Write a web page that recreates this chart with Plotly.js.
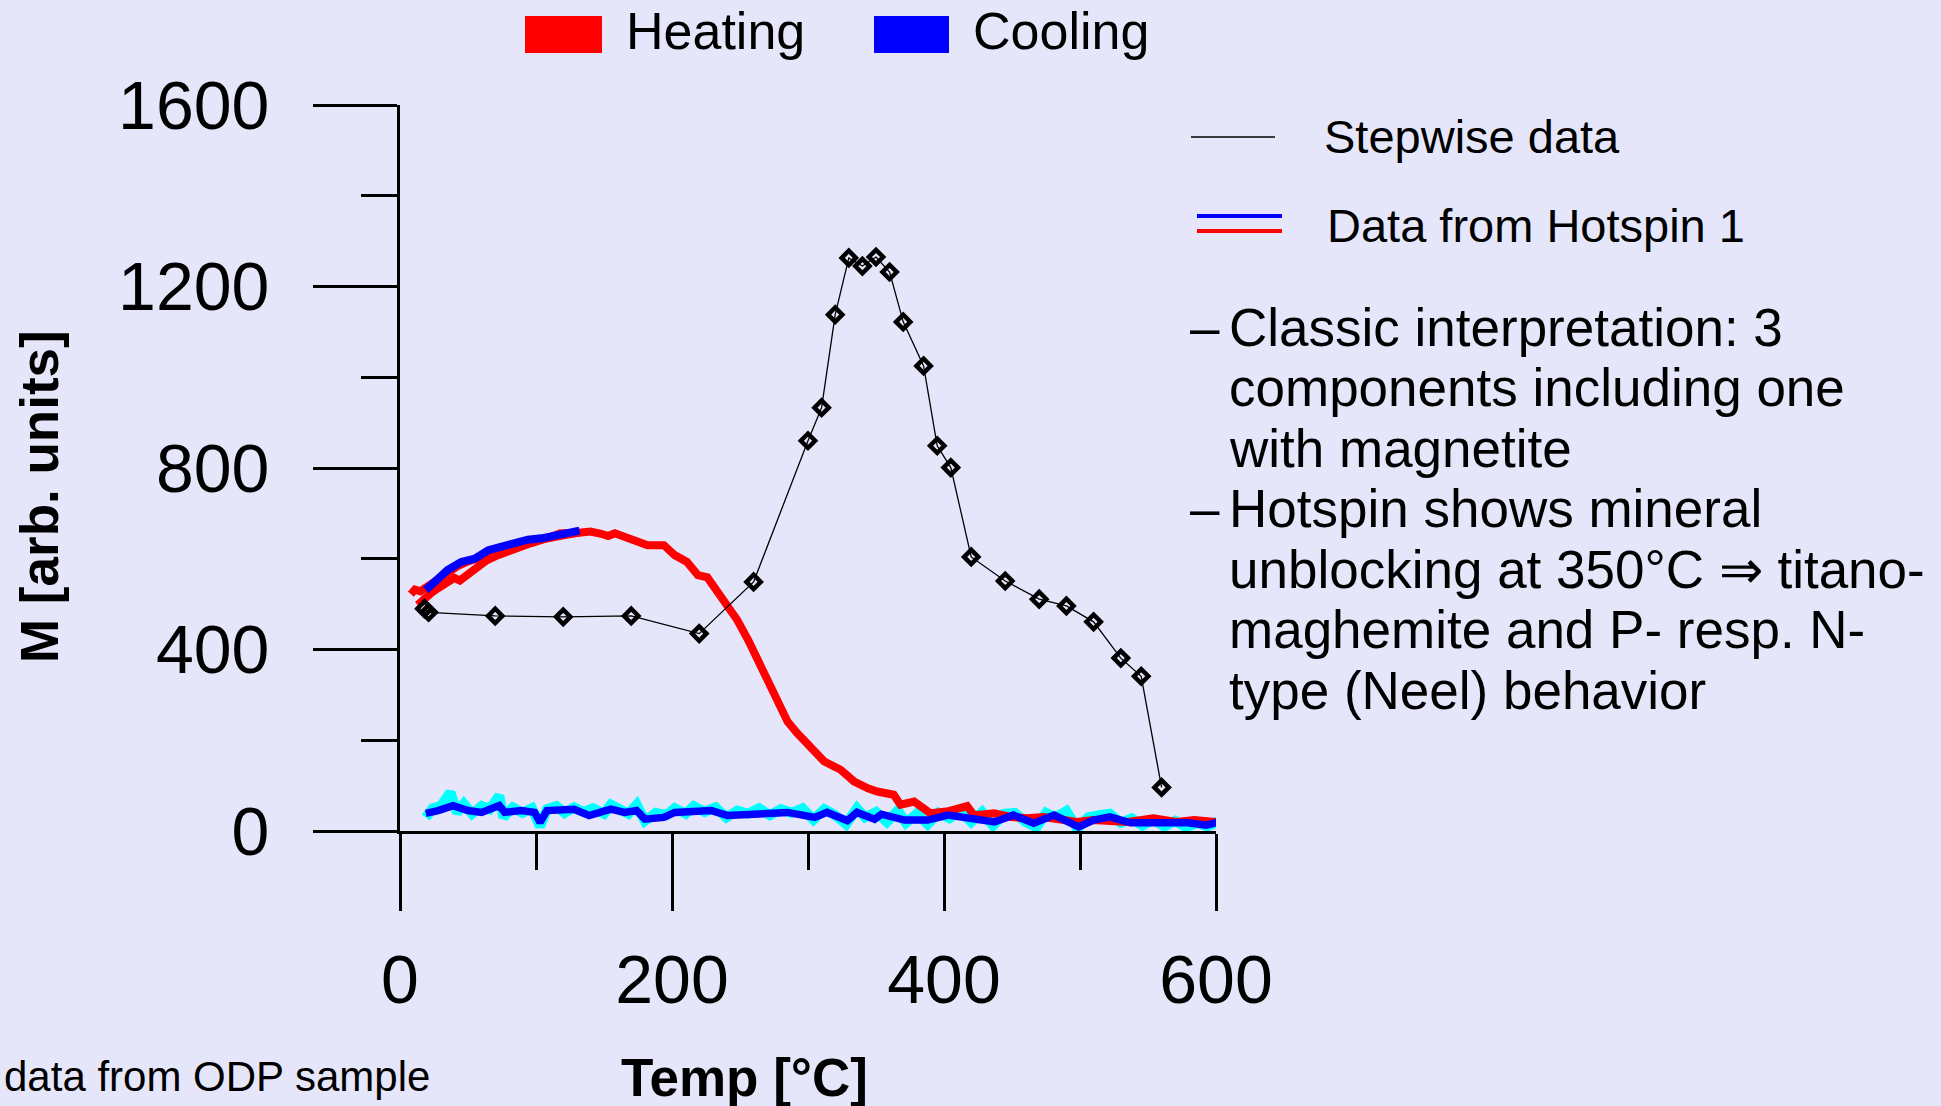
<!DOCTYPE html>
<html>
<head>
<meta charset="utf-8">
<script src="https://cdn.plot.ly/plotly-3.0.1.min.js"></script>
<style>
  html, body { margin: 0; padding: 0; background: #E6E6FA; }
  #chart { width: 1941px; height: 1106px; }
</style>
</head>
<body>
<div id="chart"></div>
<script>
// ---------------- DATA ----------------
// Stepwise thermal demagnetisation data (black diamonds)
const stepTemp = [18, 21, 70, 120, 170, 220, 260, 300, 310, 320, 330, 340, 350, 360, 370, 385, 395, 405, 420, 445, 470, 490, 510, 530, 545, 560];
const stepM    = [490, 482, 474, 472, 474, 435, 549, 860, 933, 1138, 1263, 1245, 1265, 1232, 1122, 1025, 849, 801, 604, 551, 511, 496, 461, 381, 341, 96];

// Hotspin heating run 1 (to ~130 °C)
const heat1Temp = [8, 11, 15, 19, 24, 30, 36, 42, 50, 58, 66, 76, 86, 96, 106, 116, 126, 132];
const heat1M    = [522, 532, 528, 536, 548, 560, 572, 583, 594, 603, 612, 620, 630, 638, 644, 650, 655, 658];

// Hotspin heating run 2 (to ~600 °C)
const heat2Temp = [13, 17, 22, 27, 31, 36, 40, 44, 48, 53, 58, 63, 72, 84, 96, 108, 118, 128, 140, 148, 153, 158, 170, 182, 194, 202, 211, 219, 226, 233, 241, 248, 256, 263, 270, 278, 285, 292, 302, 312, 324, 334, 344, 351, 363, 368, 378, 390, 402, 417, 422, 437, 449, 461, 473, 486, 498, 510, 535, 554, 571, 584, 596, 607];
const heat2M    = [498, 510, 522, 533, 540, 546, 558, 552, 562, 573, 583, 595, 608, 623, 634, 645, 656, 656, 660, 655, 650, 656, 641, 630, 630, 608, 593, 564, 559, 531, 498, 465, 421, 377, 333, 289, 241, 216, 186, 153, 135, 109, 94, 87, 80, 58, 65, 39, 43, 55, 35, 39, 31, 28, 31, 24, 20, 24, 20, 28, 20, 24, 22, 18];

// Hotspin cooling run 1 (from ~130 °C)
const cool1Temp = [132, 123, 114, 104, 94, 84, 74, 65, 55, 45, 35, 26, 19];
const cool1M    = [662, 656, 652, 645, 642, 634, 623, 619, 600, 593, 575, 553, 531];

// Hotspin cooling run 2 (from ~600 °C)
const cool2Temp = [602, 593, 579, 559, 537, 522, 510, 499, 481, 466, 451, 437, 420, 403, 388, 371, 354, 349, 336, 329, 314, 305, 285, 268, 256, 241, 229, 214, 202, 194, 180, 174, 165, 155, 139, 128, 119, 108, 103, 99, 89, 77, 73, 60, 50, 39, 28, 19];
const cool2M    = [20, 13, 18, 17, 18, 31, 24, 9, 35, 17, 35, 20, 28, 35, 24, 24, 37, 26, 41, 23, 41, 30, 41, 37, 34, 34, 45, 45, 41, 30, 26, 45, 41, 48, 34, 48, 48, 45, 19, 41, 45, 41, 56, 41, 45, 56, 45, 39];

// Raw (unsmoothed) cooling signal drawn underneath in cyan
const rawTemp = [19, 24, 30, 37, 42, 47, 53, 60, 66, 73, 76, 83, 90, 97, 103, 108, 115, 121, 128, 135, 142, 150, 155, 162, 168, 174, 180, 188, 196, 202, 210, 216, 224, 232, 240, 248, 256, 264, 272, 280, 288, 296, 304, 312, 320, 328, 336, 342, 350, 358, 366, 372, 380, 388, 396, 404, 412, 420, 428, 436, 444, 452, 460, 468, 475, 482, 490, 498, 506, 514, 522, 530, 538, 546, 554, 562, 570, 578, 586, 594, 602];
const rawM    = [30, 50, 55, 85, 40, 60, 38, 55, 48, 78, 30, 52, 40, 50, 10, 48, 55, 40, 52, 42, 50, 38, 58, 45, 38, 58, 22, 40, 35, 50, 38, 55, 42, 52, 30, 45, 38, 50, 35, 48, 40, 50, 25, 48, 35, 15, 50, 30, 42, 20, 45, 18, 38, 15, 40, 28, 45, 20, 42, 12, 38, 40, 20, 8, 40, 30, 44, 5, 30, 35, 38, 18, 28, 12, 25, 10, 22, 8, 18, 10, 22];

// Axis ticks
const xTicks = [0, 200, 400, 600];
const xMinorTicks = [100, 300, 500];
const yTicks = [0, 400, 800, 1200, 1600];
const yMinorTicks = [200, 600, 1000, 1400];

// Text
const xTitle = 'Temp [°C]';
const yTitle = 'M [arb. units]';
const legendTop = ['Heating', 'Cooling'];
const legendRight = ['Stepwise data', 'Data from Hotspin 1'];
const bulletLines = [
  ['–', 'Classic interpretation: 3'],
  ['', 'components including one'],
  ['', 'with magnetite'],
  ['–', 'Hotspin shows mineral'],
  ['', 'unblocking at 350°C ⇒ titano-'],
  ['', 'maghemite and P- resp. N-'],
  ['', 'type (Neel) behavior']
];
const footnote = 'data from ODP sample';

// ---------------- LAYOUT HELPERS ----------------
const W = 1941, H = 1106;
const M = {l: 400, r: 725, t: 105, b: 275};
const PW = W - M.l - M.r, PH = H - M.t - M.b;
const px = x => (x - M.l) / PW;          // pixel -> paper x
const py = y => (H - M.b - y) / PH;      // pixel -> paper y
const FONT = 'Liberation Sans, Arial, Helvetica, sans-serif';

const traces = [
  {x: rawTemp, y: rawM, mode: 'lines', line: {color: '#00FFFF', width: 10}, hoverinfo: 'skip'},
  {x: heat1Temp, y: heat1M, mode: 'lines', line: {color: '#FF0000', width: 8}},
  {x: heat2Temp, y: heat2M, mode: 'lines', line: {color: '#FF0000', width: 8}},
  {x: cool1Temp, y: cool1M, mode: 'lines', line: {color: '#0000FF', width: 8}},
  {x: cool2Temp, y: cool2M, mode: 'lines', line: {color: '#0000FF', width: 7.5}},
  {x: stepTemp, y: stepM, mode: 'lines+markers', line: {color: '#000000', width: 1.3},
   marker: {symbol: 'diamond-open', size: 11, color: '#000000', line: {width: 4.5, color: '#000000'}}}
];

const ann = [];
function addText(text, x, y, size, opts) {
  ann.push(Object.assign({
    text: text, xref: 'paper', yref: 'paper', x: px(x), y: py(y),
    xanchor: 'left', yanchor: 'middle', showarrow: false,
    font: {family: FONT, size: size, color: '#000'}
  }, opts || {}));
}
// axis titles
addText('<b>' + xTitle + '</b>', 744, 1077, 53, {xanchor: 'center'});
addText('<b>' + yTitle + '</b>', 39, 497, 53, {xanchor: 'center', textangle: -90});
// top legend
addText(legendTop[0], 624, 31, 52);
addText(legendTop[1], 971, 31, 52);
// right legend
addText(legendRight[0], 1322, 136, 47);
addText(legendRight[1], 1325, 226, 47);
// bullets
bulletLines.forEach((l, i) => {
  const yc = 327 + i * 60.5;
  if (l[0]) addText(l[0], 1188, yc, 53);
  addText(l[1], 1227, yc, 53);
});
// footnote (at left edge)
addText(footnote, 2, 1076, 42, {xanchor: 'left'});

const shapes = [
  {type: 'rect', xref: 'paper', yref: 'paper', x0: px(525), x1: px(602), y0: py(53), y1: py(16), fillcolor: '#FF0000', line: {width: 0}},
  {type: 'rect', xref: 'paper', yref: 'paper', x0: px(874), x1: px(949), y0: py(53), y1: py(16), fillcolor: '#0000FF', line: {width: 0}},
  {type: 'line', xref: 'paper', yref: 'paper', x0: px(1191), x1: px(1275), y0: py(137), y1: py(137), line: {color: '#000', width: 1.3}},
  {type: 'line', xref: 'paper', yref: 'paper', x0: px(1197), x1: px(1282), y0: py(216), y1: py(216), line: {color: '#0000FF', width: 4}},
  {type: 'line', xref: 'paper', yref: 'paper', x0: px(1197), x1: px(1282), y0: py(231), y1: py(231), line: {color: '#FF0000', width: 4}}
];

const layout = {
  width: W, height: H,
  paper_bgcolor: '#E6E6FA', plot_bgcolor: '#E6E6FA',
  margin: {l: M.l, r: M.r, t: M.t, b: M.b, pad: 0},
  showlegend: false,
  font: {family: FONT, color: '#000'},
  xaxis: {
    range: [0, 600], showline: true, linecolor: '#000', linewidth: 3,
    ticks: 'outside', tickvals: xTicks, ticklen: 77, tickwidth: 3, tickcolor: '#000',
    minor: {tickvals: xMinorTicks, ticks: 'outside', ticklen: 36, tickwidth: 3, tickcolor: '#000', showgrid: false},
    showgrid: false, zeroline: false, fixedrange: true,
    tickfont: {family: FONT, size: 68, color: '#000'}, ticklabelstandoff: 10
  },
  yaxis: {
    range: [0, 1600], showline: true, linecolor: '#000', linewidth: 3,
    ticks: 'outside', tickvals: yTicks, ticklen: 84, tickwidth: 3, tickcolor: '#000',
    minor: {tickvals: yMinorTicks, ticks: 'outside', ticklen: 36, tickwidth: 3, tickcolor: '#000', showgrid: false},
    showgrid: false, zeroline: false, fixedrange: true,
    tickfont: {family: FONT, size: 68, color: '#000'}, ticklabelstandoff: 30
  },
  annotations: ann,
  shapes: shapes
};

Plotly.newPlot('chart', traces, layout, {staticPlot: true, displayModeBar: false});
</script>
</body>
</html>
